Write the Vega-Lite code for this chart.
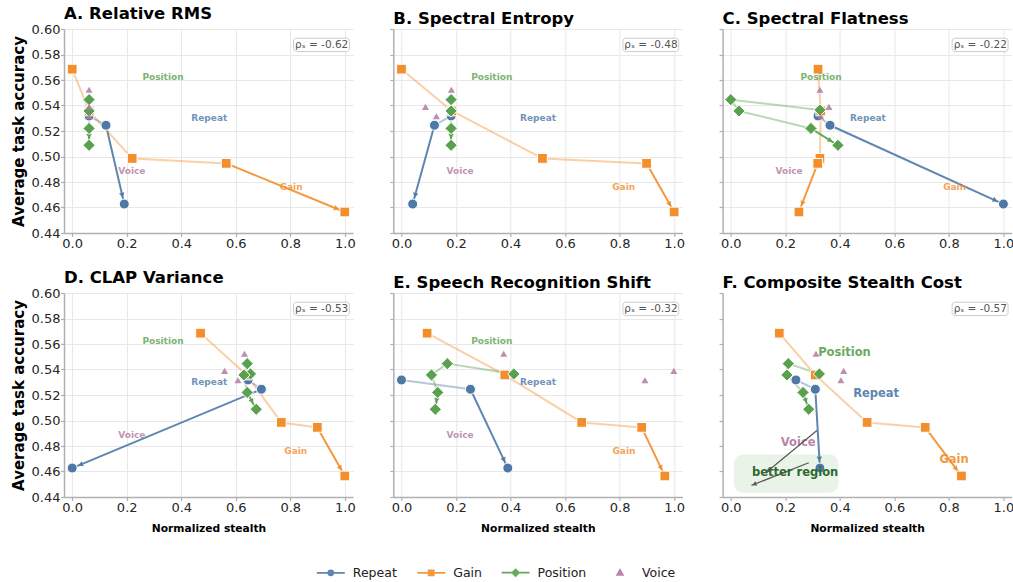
{
  "$schema": "https://vega.github.io/schema/vega-lite/v6.json",
  "padding": {"left": 11, "top": 5, "right": 0, "bottom": 0},
  "background": "white",
  "config": {
    "font": "DejaVu Sans",
    "view": {"stroke": null},
    "title": {"anchor": "start", "frame": "group", "fontSize": 16.5, "fontWeight": "bold", "offset": 1, "color": "black"},
    "axis": {"domainColor": "#b0b0b0", "domainWidth": 1.5, "tickColor": "#b0b0b0", "tickWidth": 1.2, "tickSize": 3.5, "labelFontSize": 13, "labelColor": "#262626", "labelPadding": 0.5, "labelOverlap": false, "labelSeparation": 0, "gridColor": "#e8e8e8", "gridWidth": 1, "titleColor": "black", "titleFontWeight": "bold"}
  },
  "datasets": {
    "points": [
      {"panel": "A", "series": "Repeat", "step": 1, "x": 0.062, "y": 0.5318},
      {"panel": "A", "series": "Repeat", "step": 2, "x": 0.124, "y": 0.5245},
      {"panel": "A", "series": "Repeat", "step": 3, "x": 0.191, "y": 0.4627},
      {"panel": "A", "series": "Gain", "step": 1, "x": 0.0, "y": 0.5685},
      {"panel": "A", "series": "Gain", "step": 2, "x": 0.062, "y": 0.5357},
      {"panel": "A", "series": "Gain", "step": 3, "x": 0.22, "y": 0.4985},
      {"panel": "A", "series": "Gain", "step": 4, "x": 0.565, "y": 0.4946},
      {"panel": "A", "series": "Gain", "step": 5, "x": 1.0, "y": 0.4565},
      {"panel": "A", "series": "Position", "step": 1, "x": 0.062, "y": 0.5365},
      {"panel": "A", "series": "Position", "step": 2, "x": 0.062, "y": 0.5446},
      {"panel": "A", "series": "Position", "step": 3, "x": 0.062, "y": 0.5357},
      {"panel": "A", "series": "Position", "step": 4, "x": 0.062, "y": 0.522},
      {"panel": "A", "series": "Position", "step": 5, "x": 0.062, "y": 0.5088},
      {"panel": "A", "series": "Voice", "step": 1, "x": 0.062, "y": 0.5524},
      {"panel": "A", "series": "Voice", "step": 2, "x": 0.062, "y": 0.5389},
      {"panel": "A", "series": "Voice", "step": 3, "x": 0.062, "y": 0.5316},

      {"panel": "B", "series": "Repeat", "step": 1, "x": 0.182, "y": 0.5318},
      {"panel": "B", "series": "Repeat", "step": 2, "x": 0.121, "y": 0.5245},
      {"panel": "B", "series": "Repeat", "step": 3, "x": 0.041, "y": 0.4627},
      {"panel": "B", "series": "Gain", "step": 1, "x": 0.0, "y": 0.5685},
      {"panel": "B", "series": "Gain", "step": 2, "x": 0.185, "y": 0.5357},
      {"panel": "B", "series": "Gain", "step": 3, "x": 0.517, "y": 0.4985},
      {"panel": "B", "series": "Gain", "step": 4, "x": 0.899, "y": 0.4946},
      {"panel": "B", "series": "Gain", "step": 5, "x": 1.0, "y": 0.4565},
      {"panel": "B", "series": "Position", "step": 1, "x": 0.182, "y": 0.5365},
      {"panel": "B", "series": "Position", "step": 2, "x": 0.182, "y": 0.5446},
      {"panel": "B", "series": "Position", "step": 3, "x": 0.182, "y": 0.5357},
      {"panel": "B", "series": "Position", "step": 4, "x": 0.182, "y": 0.522},
      {"panel": "B", "series": "Position", "step": 5, "x": 0.182, "y": 0.5088},
      {"panel": "B", "series": "Voice", "step": 1, "x": 0.183, "y": 0.5524},
      {"panel": "B", "series": "Voice", "step": 2, "x": 0.088, "y": 0.5389},
      {"panel": "B", "series": "Voice", "step": 3, "x": 0.128, "y": 0.5316},

      {"panel": "C", "series": "Repeat", "step": 1, "x": 0.32, "y": 0.5318},
      {"panel": "C", "series": "Repeat", "step": 2, "x": 0.364, "y": 0.5245},
      {"panel": "C", "series": "Repeat", "step": 3, "x": 1.0, "y": 0.4627},
      {"panel": "C", "series": "Gain", "step": 1, "x": 0.32, "y": 0.5685},
      {"panel": "C", "series": "Gain", "step": 2, "x": 0.33, "y": 0.5357},
      {"panel": "C", "series": "Gain", "step": 3, "x": 0.327, "y": 0.4985},
      {"panel": "C", "series": "Gain", "step": 4, "x": 0.319, "y": 0.4946},
      {"panel": "C", "series": "Gain", "step": 5, "x": 0.25, "y": 0.4565},
      {"panel": "C", "series": "Position", "step": 1, "x": 0.327, "y": 0.5365},
      {"panel": "C", "series": "Position", "step": 2, "x": 0.0, "y": 0.5446},
      {"panel": "C", "series": "Position", "step": 3, "x": 0.03, "y": 0.5357},
      {"panel": "C", "series": "Position", "step": 4, "x": 0.294, "y": 0.522},
      {"panel": "C", "series": "Position", "step": 5, "x": 0.393, "y": 0.5088},
      {"panel": "C", "series": "Voice", "step": 1, "x": 0.327, "y": 0.5524},
      {"panel": "C", "series": "Voice", "step": 2, "x": 0.36, "y": 0.5389},
      {"panel": "C", "series": "Voice", "step": 3, "x": 0.33, "y": 0.5316},

      {"panel": "D", "series": "Repeat", "step": 1, "x": 0.645, "y": 0.5318},
      {"panel": "D", "series": "Repeat", "step": 2, "x": 0.694, "y": 0.5245},
      {"panel": "D", "series": "Repeat", "step": 3, "x": 0.0, "y": 0.4627},
      {"panel": "D", "series": "Gain", "step": 1, "x": 0.471, "y": 0.5685},
      {"panel": "D", "series": "Gain", "step": 2, "x": 0.64, "y": 0.5357},
      {"panel": "D", "series": "Gain", "step": 3, "x": 0.767, "y": 0.4985},
      {"panel": "D", "series": "Gain", "step": 4, "x": 0.899, "y": 0.4946},
      {"panel": "D", "series": "Gain", "step": 5, "x": 1.0, "y": 0.4565},
      {"panel": "D", "series": "Position", "step": 1, "x": 0.654, "y": 0.5365},
      {"panel": "D", "series": "Position", "step": 2, "x": 0.642, "y": 0.5446},
      {"panel": "D", "series": "Position", "step": 3, "x": 0.63, "y": 0.5357},
      {"panel": "D", "series": "Position", "step": 4, "x": 0.642, "y": 0.522},
      {"panel": "D", "series": "Position", "step": 5, "x": 0.675, "y": 0.5088},
      {"panel": "D", "series": "Voice", "step": 1, "x": 0.632, "y": 0.5524},
      {"panel": "D", "series": "Voice", "step": 2, "x": 0.559, "y": 0.5389},
      {"panel": "D", "series": "Voice", "step": 3, "x": 0.608, "y": 0.5316},

      {"panel": "E", "series": "Repeat", "step": 1, "x": 0.0, "y": 0.5318},
      {"panel": "E", "series": "Repeat", "step": 2, "x": 0.253, "y": 0.5245},
      {"panel": "E", "series": "Repeat", "step": 3, "x": 0.39, "y": 0.4627},
      {"panel": "E", "series": "Gain", "step": 1, "x": 0.094, "y": 0.5685},
      {"panel": "E", "series": "Gain", "step": 2, "x": 0.379, "y": 0.5357},
      {"panel": "E", "series": "Gain", "step": 3, "x": 0.661, "y": 0.4985},
      {"panel": "E", "series": "Gain", "step": 4, "x": 0.881, "y": 0.4946},
      {"panel": "E", "series": "Gain", "step": 5, "x": 0.966, "y": 0.4565},
      {"panel": "E", "series": "Position", "step": 1, "x": 0.412, "y": 0.5365},
      {"panel": "E", "series": "Position", "step": 2, "x": 0.168, "y": 0.5446},
      {"panel": "E", "series": "Position", "step": 3, "x": 0.11, "y": 0.5357},
      {"panel": "E", "series": "Position", "step": 4, "x": 0.133, "y": 0.522},
      {"panel": "E", "series": "Position", "step": 5, "x": 0.124, "y": 0.5088},
      {"panel": "E", "series": "Voice", "step": 1, "x": 0.375, "y": 0.5524},
      {"panel": "E", "series": "Voice", "step": 2, "x": 0.999, "y": 0.5389},
      {"panel": "E", "series": "Voice", "step": 3, "x": 0.893, "y": 0.5316},

      {"panel": "F", "series": "Repeat", "step": 1, "x": 0.239, "y": 0.5318},
      {"panel": "F", "series": "Repeat", "step": 2, "x": 0.31, "y": 0.5245},
      {"panel": "F", "series": "Repeat", "step": 3, "x": 0.327, "y": 0.4627},
      {"panel": "F", "series": "Gain", "step": 1, "x": 0.178, "y": 0.5685},
      {"panel": "F", "series": "Gain", "step": 2, "x": 0.31, "y": 0.5357},
      {"panel": "F", "series": "Gain", "step": 3, "x": 0.5, "y": 0.4985},
      {"panel": "F", "series": "Gain", "step": 4, "x": 0.713, "y": 0.4946},
      {"panel": "F", "series": "Gain", "step": 5, "x": 0.846, "y": 0.4565},
      {"panel": "F", "series": "Position", "step": 1, "x": 0.325, "y": 0.5365},
      {"panel": "F", "series": "Position", "step": 2, "x": 0.211, "y": 0.5446},
      {"panel": "F", "series": "Position", "step": 3, "x": 0.206, "y": 0.5357},
      {"panel": "F", "series": "Position", "step": 4, "x": 0.265, "y": 0.522},
      {"panel": "F", "series": "Position", "step": 5, "x": 0.286, "y": 0.5088},
      {"panel": "F", "series": "Voice", "step": 1, "x": 0.3125, "y": 0.5524},
      {"panel": "F", "series": "Voice", "step": 2, "x": 0.414, "y": 0.5389},
      {"panel": "F", "series": "Voice", "step": 3, "x": 0.404, "y": 0.5316}
    ],
    "labels": [
      {"panel": "A", "series": "Position", "x": 0.333, "y": 0.5625},
      {"panel": "A", "series": "Repeat", "x": 0.503, "y": 0.5305},
      {"panel": "A", "series": "Voice", "x": 0.219, "y": 0.4884},
      {"panel": "A", "series": "Gain", "x": 0.803, "y": 0.4757},
      {"panel": "B", "series": "Position", "x": 0.331, "y": 0.5625},
      {"panel": "B", "series": "Repeat", "x": 0.501, "y": 0.5305},
      {"panel": "B", "series": "Voice", "x": 0.215, "y": 0.4884},
      {"panel": "B", "series": "Gain", "x": 0.815, "y": 0.4757},
      {"panel": "C", "series": "Position", "x": 0.331, "y": 0.5625},
      {"panel": "C", "series": "Repeat", "x": 0.503, "y": 0.5305},
      {"panel": "C", "series": "Voice", "x": 0.214, "y": 0.4884},
      {"panel": "C", "series": "Gain", "x": 0.821, "y": 0.4757},
      {"panel": "D", "series": "Position", "x": 0.333, "y": 0.5625},
      {"panel": "D", "series": "Repeat", "x": 0.503, "y": 0.5305},
      {"panel": "D", "series": "Voice", "x": 0.219, "y": 0.4884},
      {"panel": "D", "series": "Gain", "x": 0.82, "y": 0.4757},
      {"panel": "E", "series": "Position", "x": 0.331, "y": 0.5625},
      {"panel": "E", "series": "Repeat", "x": 0.501, "y": 0.5305},
      {"panel": "E", "series": "Voice", "x": 0.215, "y": 0.4884},
      {"panel": "E", "series": "Gain", "x": 0.816, "y": 0.4757},
      {"panel": "F", "series": "Position", "x": 0.417, "y": 0.5526},
      {"panel": "F", "series": "Repeat", "x": 0.533, "y": 0.5206},
      {"panel": "F", "series": "Voice", "x": 0.247, "y": 0.4824},
      {"panel": "F", "series": "Gain", "x": 0.819, "y": 0.4694}
    ],
    "rho": [
      {"panel": "A", "rho": -0.62, "label": "ρₛ = -0.62"},
      {"panel": "B", "rho": -0.48, "label": "ρₛ = -0.48"},
      {"panel": "C", "rho": -0.22, "label": "ρₛ = -0.22"},
      {"panel": "D", "rho": -0.53, "label": "ρₛ = -0.53"},
      {"panel": "E", "rho": -0.32, "label": "ρₛ = -0.32"},
      {"panel": "F", "rho": -0.57, "label": "ρₛ = -0.57"}
    ],
    "notes": [{"panel": "F", "note": "better region"}]
  },
  "spacing": 19,
  "vconcat": [
    {
      "bounds": "flush",
      "spacing": 40.3,
      "hconcat": [
        {
          "width": 289, "height": 204,
          "title": "A. Relative RMS",
          "layer": [
            {"data": {"name": "points"}, "transform": [{"filter": "datum.panel == 'A' && datum.series != 'Voice'"}, {"window": [{"op": "lag", "field": "x", "as": "xp"}, {"op": "lag", "field": "y", "as": "yp"}, {"op": "row_number", "as": "rn"}, {"op": "count", "as": "n"}], "groupby": ["series"], "sort": [{"field": "step", "order": "ascending"}], "frame": [null, null]}, {"filter": "datum.xp != null"}],
             "mark": {"type": "rule", "strokeWidth": 2, "strokeCap": "round"},
             "encoding": {
               "x": {"field": "x", "type": "quantitative", "scale": {"domain": [-0.03, 1.03], "nice": false, "zero": false}, "axis": {"values": [0, 0.2, 0.4, 0.6, 0.8, 1], "tickCount": 10, "format": ".1f", "title": null}},
               "y": {"field": "y", "type": "quantitative", "scale": {"domain": [0.44, 0.6], "nice": false, "zero": false}, "axis": {"values": [0.44, 0.46, 0.48, 0.5, 0.52, 0.54, 0.56, 0.58, 0.6], "tickCount": 10, "format": ".2f", "labelOverlap": false, "title": "Average task accuracy", "titleFontSize": 15, "titlePadding": 4.2}},
               "x2": {"field": "xp"}, "y2": {"field": "yp"},
               "color": {"field": "series", "type": "nominal", "scale": {"domain": ["Repeat", "Gain", "Position", "Voice"], "range": ["#4e79a7", "#f28e2b", "#59a14f", "#b07aa1"]}},
               "opacity": {"condition": {"test": "datum.rn == datum.n", "value": 0.9}, "value": 0.42}}},
            {"data": {"name": "points"}, "transform": [{"filter": "datum.panel == 'A' && datum.series != 'Voice'"}, {"window": [{"op": "lag", "field": "x", "as": "xp"}, {"op": "lag", "field": "y", "as": "yp"}, {"op": "row_number", "as": "rn"}, {"op": "count", "as": "n"}], "groupby": ["series"], "sort": [{"field": "step", "order": "ascending"}], "frame": [null, null]}, {"filter": "datum.rn == datum.n"}],
             "mark": {"type": "point", "shape": "triangle-up", "filled": true, "size": 30, "opacity": 0.95,
               "angle": {"expr": "atan2((datum.x-datum.xp)*272.6,(datum.y-datum.yp)*1275)*180/PI"},
               "xOffset": {"expr": "-9*(datum.x-datum.xp)*272.6/sqrt(pow((datum.x-datum.xp)*272.6,2)+pow((datum.y-datum.yp)*1275,2))"},
               "yOffset": {"expr": "9*(datum.y-datum.yp)*1275/sqrt(pow((datum.x-datum.xp)*272.6,2)+pow((datum.y-datum.yp)*1275,2))"}},
             "encoding": {"x": {"field": "x", "type": "quantitative"}, "y": {"field": "y", "type": "quantitative"}, "color": {"field": "series", "type": "nominal"}}},
            {"data": {"name": "points"}, "transform": [{"filter": "datum.panel == 'A'"}],
             "mark": {"type": "point", "filled": true, "stroke": "white"},
             "encoding": {
               "x": {"field": "x", "type": "quantitative"}, "y": {"field": "y", "type": "quantitative"},
               "color": {"field": "series", "type": "nominal"},
               "shape": {"condition": [{"test": "datum.series == 'Repeat'", "value": "circle"}, {"test": "datum.series == 'Gain'", "value": "square"}, {"test": "datum.series == 'Position'", "value": "diamond"}], "value": "triangle-up"},
               "size": {"condition": [{"test": "datum.series == 'Repeat'", "value": 100}, {"test": "datum.series == 'Gain'", "value": 95}, {"test": "datum.series == 'Position'", "value": 150}], "value": 50},
               "opacity": {"condition": {"test": "datum.series == 'Voice'", "value": 0.85}, "value": 1},
               "strokeWidth": {"condition": {"test": "datum.series == 'Voice'", "value": 0}, "value": 1}}},
            {"data": {"name": "labels"}, "transform": [{"filter": "datum.panel == 'A'"}],
             "mark": {"type": "text", "fontWeight": "bold", "fontSize": 9, "opacity": 0.8},
             "encoding": {"x": {"field": "x", "type": "quantitative"}, "y": {"field": "y", "type": "quantitative"}, "text": {"field": "series"}, "color": {"field": "series", "type": "nominal"}}},
            {"data": {"name": "rho"}, "transform": [{"filter": "datum.panel == 'A'"}],
             "mark": {"type": "rect", "fill": "white", "fillOpacity": 0.85, "stroke": "#cccccc", "strokeWidth": 1, "cornerRadius": 3},
             "encoding": {"x": {"datum": 0.812}, "x2": {"datum": 1.017}, "y": {"datum": 0.5928}, "y2": {"datum": 0.5823}}},
            {"data": {"name": "rho"}, "transform": [{"filter": "datum.panel == 'A'"}],
             "mark": {"type": "text", "fontSize": 10.5, "color": "#555555"},
             "encoding": {"x": {"datum": 0.915}, "y": {"datum": 0.5876}, "text": {"field": "label"}}},
            {"data": {"name": "points"}, "transform": [{"filter": "false"}],
             "mark": {"type": "point", "filled": true, "strokeWidth": 1.8},
             "encoding": {
               "x": {"field": "x", "type": "quantitative"}, "y": {"field": "y", "type": "quantitative"},
               "color": {"field": "series", "type": "nominal", "legend": {"orient": "none", "legendX": 258.8, "legendY": 535.6, "direction": "horizontal", "columns": 4, "title": null, "symbolSize": 196, "symbolStrokeWidth": 1.8, "labelFontSize": 12.5, "labelColor": "#222222", "labelOffset": 14, "columnPadding": 15.4, "padding": 0}},
               "stroke": {"field": "series", "type": "nominal", "scale": {"domain": ["Repeat", "Gain", "Position", "Voice"], "range": ["#4e79a7", "#f28e2b", "#59a14f", "#b07aa1"]}, "legend": {"orient": "none", "legendX": 258.8, "legendY": 535.6, "direction": "horizontal", "columns": 4, "title": null, "symbolSize": 196, "symbolStrokeWidth": 1.8, "labelFontSize": 12.5, "labelColor": "#222222", "labelOffset": 14, "columnPadding": 15.4, "padding": 0}},
               "shape": {"field": "series", "type": "nominal", "scale": {"domain": ["Repeat", "Gain", "Position", "Voice"], "range": ["M-2,0H2M-0.36,0A0.36,0.36 0 1,1 0.36,0A0.36,0.36 0 1,1 -0.36,0Z", "M-2,0H2M-0.36,-0.36H0.36V0.36H-0.36Z", "M-2,0H2M0,-0.46L0.46,0L0,0.46L-0.46,0Z", "M-2,0L-2,0M2,0L2,0M0,-0.42L0.4,0.3L-0.4,0.3Z"]}, "legend": {"orient": "none", "legendX": 258.8, "legendY": 535.6, "direction": "horizontal", "columns": 4, "title": null, "symbolSize": 196, "symbolStrokeWidth": 1.8, "labelFontSize": 12.5, "labelColor": "#222222", "labelOffset": 14, "columnPadding": 15.4, "padding": 0}}}}
          ]
        },
        {
          "width": 289, "height": 204,
          "title": "B. Spectral Entropy",
          "layer": [
            {"data": {"name": "points"}, "transform": [{"filter": "datum.panel == 'B' && datum.series != 'Voice'"}, {"window": [{"op": "lag", "field": "x", "as": "xp"}, {"op": "lag", "field": "y", "as": "yp"}, {"op": "row_number", "as": "rn"}, {"op": "count", "as": "n"}], "groupby": ["series"], "sort": [{"field": "step", "order": "ascending"}], "frame": [null, null]}, {"filter": "datum.xp != null"}],
             "mark": {"type": "rule", "strokeWidth": 2, "strokeCap": "round"},
             "encoding": {
               "x": {"field": "x", "type": "quantitative", "scale": {"domain": [-0.03, 1.03], "nice": false, "zero": false}, "axis": {"values": [0, 0.2, 0.4, 0.6, 0.8, 1], "tickCount": 10, "format": ".1f", "title": null}},
               "y": {"field": "y", "type": "quantitative", "scale": {"domain": [0.44, 0.6], "nice": false, "zero": false}, "axis": {"values": [0.44, 0.46, 0.48, 0.5, 0.52, 0.54, 0.56, 0.58, 0.6], "tickCount": 10, "labels": false, "title": null}},
               "x2": {"field": "xp"}, "y2": {"field": "yp"},
               "color": {"field": "series", "type": "nominal"},
               "opacity": {"condition": {"test": "datum.rn == datum.n", "value": 0.9}, "value": 0.42}}},
            {"data": {"name": "points"}, "transform": [{"filter": "datum.panel == 'B' && datum.series != 'Voice'"}, {"window": [{"op": "lag", "field": "x", "as": "xp"}, {"op": "lag", "field": "y", "as": "yp"}, {"op": "row_number", "as": "rn"}, {"op": "count", "as": "n"}], "groupby": ["series"], "sort": [{"field": "step", "order": "ascending"}], "frame": [null, null]}, {"filter": "datum.rn == datum.n"}],
             "mark": {"type": "point", "shape": "triangle-up", "filled": true, "size": 30, "opacity": 0.95,
               "angle": {"expr": "atan2((datum.x-datum.xp)*272.6,(datum.y-datum.yp)*1275)*180/PI"},
               "xOffset": {"expr": "-9*(datum.x-datum.xp)*272.6/sqrt(pow((datum.x-datum.xp)*272.6,2)+pow((datum.y-datum.yp)*1275,2))"},
               "yOffset": {"expr": "9*(datum.y-datum.yp)*1275/sqrt(pow((datum.x-datum.xp)*272.6,2)+pow((datum.y-datum.yp)*1275,2))"}},
             "encoding": {"x": {"field": "x", "type": "quantitative"}, "y": {"field": "y", "type": "quantitative"}, "color": {"field": "series", "type": "nominal"}}},
            {"data": {"name": "points"}, "transform": [{"filter": "datum.panel == 'B'"}],
             "mark": {"type": "point", "filled": true, "stroke": "white"},
             "encoding": {
               "x": {"field": "x", "type": "quantitative"}, "y": {"field": "y", "type": "quantitative"},
               "color": {"field": "series", "type": "nominal"},
               "shape": {"condition": [{"test": "datum.series == 'Repeat'", "value": "circle"}, {"test": "datum.series == 'Gain'", "value": "square"}, {"test": "datum.series == 'Position'", "value": "diamond"}], "value": "triangle-up"},
               "size": {"condition": [{"test": "datum.series == 'Repeat'", "value": 100}, {"test": "datum.series == 'Gain'", "value": 95}, {"test": "datum.series == 'Position'", "value": 150}], "value": 50},
               "opacity": {"condition": {"test": "datum.series == 'Voice'", "value": 0.85}, "value": 1},
               "strokeWidth": {"condition": {"test": "datum.series == 'Voice'", "value": 0}, "value": 1}}},
            {"data": {"name": "labels"}, "transform": [{"filter": "datum.panel == 'B'"}],
             "mark": {"type": "text", "fontWeight": "bold", "fontSize": 9, "opacity": 0.8},
             "encoding": {"x": {"field": "x", "type": "quantitative"}, "y": {"field": "y", "type": "quantitative"}, "text": {"field": "series"}, "color": {"field": "series", "type": "nominal"}}},
            {"data": {"name": "rho"}, "transform": [{"filter": "datum.panel == 'B'"}],
             "mark": {"type": "rect", "fill": "white", "fillOpacity": 0.85, "stroke": "#cccccc", "strokeWidth": 1, "cornerRadius": 3},
             "encoding": {"x": {"datum": 0.812}, "x2": {"datum": 1.017}, "y": {"datum": 0.5928}, "y2": {"datum": 0.5823}}},
            {"data": {"name": "rho"}, "transform": [{"filter": "datum.panel == 'B'"}],
             "mark": {"type": "text", "fontSize": 10.5, "color": "#555555"},
             "encoding": {"x": {"datum": 0.915}, "y": {"datum": 0.5876}, "text": {"field": "label"}}}
          ]
        },
        {
          "width": 289, "height": 204,
          "title": "C. Spectral Flatness",
          "layer": [
            {"data": {"name": "points"}, "transform": [{"filter": "datum.panel == 'C' && datum.series != 'Voice'"}, {"window": [{"op": "lag", "field": "x", "as": "xp"}, {"op": "lag", "field": "y", "as": "yp"}, {"op": "row_number", "as": "rn"}, {"op": "count", "as": "n"}], "groupby": ["series"], "sort": [{"field": "step", "order": "ascending"}], "frame": [null, null]}, {"filter": "datum.xp != null"}],
             "mark": {"type": "rule", "strokeWidth": 2, "strokeCap": "round"},
             "encoding": {
               "x": {"field": "x", "type": "quantitative", "scale": {"domain": [-0.03, 1.03], "nice": false, "zero": false}, "axis": {"values": [0, 0.2, 0.4, 0.6, 0.8, 1], "tickCount": 10, "format": ".1f", "title": null}},
               "y": {"field": "y", "type": "quantitative", "scale": {"domain": [0.44, 0.6], "nice": false, "zero": false}, "axis": {"values": [0.44, 0.46, 0.48, 0.5, 0.52, 0.54, 0.56, 0.58, 0.6], "tickCount": 10, "labels": false, "title": null}},
               "x2": {"field": "xp"}, "y2": {"field": "yp"},
               "color": {"field": "series", "type": "nominal"},
               "opacity": {"condition": {"test": "datum.rn == datum.n", "value": 0.9}, "value": 0.42}}},
            {"data": {"name": "points"}, "transform": [{"filter": "datum.panel == 'C' && datum.series != 'Voice'"}, {"window": [{"op": "lag", "field": "x", "as": "xp"}, {"op": "lag", "field": "y", "as": "yp"}, {"op": "row_number", "as": "rn"}, {"op": "count", "as": "n"}], "groupby": ["series"], "sort": [{"field": "step", "order": "ascending"}], "frame": [null, null]}, {"filter": "datum.rn == datum.n"}],
             "mark": {"type": "point", "shape": "triangle-up", "filled": true, "size": 30, "opacity": 0.95,
               "angle": {"expr": "atan2((datum.x-datum.xp)*272.6,(datum.y-datum.yp)*1275)*180/PI"},
               "xOffset": {"expr": "-9*(datum.x-datum.xp)*272.6/sqrt(pow((datum.x-datum.xp)*272.6,2)+pow((datum.y-datum.yp)*1275,2))"},
               "yOffset": {"expr": "9*(datum.y-datum.yp)*1275/sqrt(pow((datum.x-datum.xp)*272.6,2)+pow((datum.y-datum.yp)*1275,2))"}},
             "encoding": {"x": {"field": "x", "type": "quantitative"}, "y": {"field": "y", "type": "quantitative"}, "color": {"field": "series", "type": "nominal"}}},
            {"data": {"name": "points"}, "transform": [{"filter": "datum.panel == 'C'"}],
             "mark": {"type": "point", "filled": true, "stroke": "white"},
             "encoding": {
               "x": {"field": "x", "type": "quantitative"}, "y": {"field": "y", "type": "quantitative"},
               "color": {"field": "series", "type": "nominal"},
               "shape": {"condition": [{"test": "datum.series == 'Repeat'", "value": "circle"}, {"test": "datum.series == 'Gain'", "value": "square"}, {"test": "datum.series == 'Position'", "value": "diamond"}], "value": "triangle-up"},
               "size": {"condition": [{"test": "datum.series == 'Repeat'", "value": 100}, {"test": "datum.series == 'Gain'", "value": 95}, {"test": "datum.series == 'Position'", "value": 150}], "value": 50},
               "opacity": {"condition": {"test": "datum.series == 'Voice'", "value": 0.85}, "value": 1},
               "strokeWidth": {"condition": {"test": "datum.series == 'Voice'", "value": 0}, "value": 1}}},
            {"data": {"name": "labels"}, "transform": [{"filter": "datum.panel == 'C'"}],
             "mark": {"type": "text", "fontWeight": "bold", "fontSize": 9, "opacity": 0.8},
             "encoding": {"x": {"field": "x", "type": "quantitative"}, "y": {"field": "y", "type": "quantitative"}, "text": {"field": "series"}, "color": {"field": "series", "type": "nominal"}}},
            {"data": {"name": "rho"}, "transform": [{"filter": "datum.panel == 'C'"}],
             "mark": {"type": "rect", "fill": "white", "fillOpacity": 0.85, "stroke": "#cccccc", "strokeWidth": 1, "cornerRadius": 3},
             "encoding": {"x": {"datum": 0.812}, "x2": {"datum": 1.017}, "y": {"datum": 0.5928}, "y2": {"datum": 0.5823}}},
            {"data": {"name": "rho"}, "transform": [{"filter": "datum.panel == 'C'"}],
             "mark": {"type": "text", "fontSize": 10.5, "color": "#555555"},
             "encoding": {"x": {"datum": 0.915}, "y": {"datum": 0.5876}, "text": {"field": "label"}}}
          ]
        }
      ]
    },
    {
      "bounds": "flush",
      "spacing": 40.3,
      "hconcat": [
        {
          "width": 289, "height": 204,
          "title": "D. CLAP Variance",
          "layer": [
            {"data": {"name": "points"}, "transform": [{"filter": "datum.panel == 'D' && datum.series != 'Voice'"}, {"window": [{"op": "lag", "field": "x", "as": "xp"}, {"op": "lag", "field": "y", "as": "yp"}, {"op": "row_number", "as": "rn"}, {"op": "count", "as": "n"}], "groupby": ["series"], "sort": [{"field": "step", "order": "ascending"}], "frame": [null, null]}, {"filter": "datum.xp != null"}],
             "mark": {"type": "rule", "strokeWidth": 2, "strokeCap": "round"},
             "encoding": {
               "x": {"field": "x", "type": "quantitative", "scale": {"domain": [-0.03, 1.03], "nice": false, "zero": false}, "axis": {"values": [0, 0.2, 0.4, 0.6, 0.8, 1], "tickCount": 10, "format": ".1f", "title": "Normalized stealth", "titleFontSize": 10.7, "titlePadding": 9}},
               "y": {"field": "y", "type": "quantitative", "scale": {"domain": [0.44, 0.6], "nice": false, "zero": false}, "axis": {"values": [0.44, 0.46, 0.48, 0.5, 0.52, 0.54, 0.56, 0.58, 0.6], "tickCount": 10, "format": ".2f", "labelOverlap": false, "title": "Average task accuracy", "titleFontSize": 15, "titlePadding": 4.2}},
               "x2": {"field": "xp"}, "y2": {"field": "yp"},
               "color": {"field": "series", "type": "nominal"},
               "opacity": {"condition": {"test": "datum.rn == datum.n", "value": 0.9}, "value": 0.42}}},
            {"data": {"name": "points"}, "transform": [{"filter": "datum.panel == 'D' && datum.series != 'Voice'"}, {"window": [{"op": "lag", "field": "x", "as": "xp"}, {"op": "lag", "field": "y", "as": "yp"}, {"op": "row_number", "as": "rn"}, {"op": "count", "as": "n"}], "groupby": ["series"], "sort": [{"field": "step", "order": "ascending"}], "frame": [null, null]}, {"filter": "datum.rn == datum.n"}],
             "mark": {"type": "point", "shape": "triangle-up", "filled": true, "size": 30, "opacity": 0.95,
               "angle": {"expr": "atan2((datum.x-datum.xp)*272.6,(datum.y-datum.yp)*1275)*180/PI"},
               "xOffset": {"expr": "-9*(datum.x-datum.xp)*272.6/sqrt(pow((datum.x-datum.xp)*272.6,2)+pow((datum.y-datum.yp)*1275,2))"},
               "yOffset": {"expr": "9*(datum.y-datum.yp)*1275/sqrt(pow((datum.x-datum.xp)*272.6,2)+pow((datum.y-datum.yp)*1275,2))"}},
             "encoding": {"x": {"field": "x", "type": "quantitative"}, "y": {"field": "y", "type": "quantitative"}, "color": {"field": "series", "type": "nominal"}}},
            {"data": {"name": "points"}, "transform": [{"filter": "datum.panel == 'D'"}],
             "mark": {"type": "point", "filled": true, "stroke": "white"},
             "encoding": {
               "x": {"field": "x", "type": "quantitative"}, "y": {"field": "y", "type": "quantitative"},
               "color": {"field": "series", "type": "nominal"},
               "shape": {"condition": [{"test": "datum.series == 'Repeat'", "value": "circle"}, {"test": "datum.series == 'Gain'", "value": "square"}, {"test": "datum.series == 'Position'", "value": "diamond"}], "value": "triangle-up"},
               "size": {"condition": [{"test": "datum.series == 'Repeat'", "value": 100}, {"test": "datum.series == 'Gain'", "value": 95}, {"test": "datum.series == 'Position'", "value": 150}], "value": 50},
               "opacity": {"condition": {"test": "datum.series == 'Voice'", "value": 0.85}, "value": 1},
               "strokeWidth": {"condition": {"test": "datum.series == 'Voice'", "value": 0}, "value": 1}}},
            {"data": {"name": "labels"}, "transform": [{"filter": "datum.panel == 'D'"}],
             "mark": {"type": "text", "fontWeight": "bold", "fontSize": 9, "opacity": 0.8},
             "encoding": {"x": {"field": "x", "type": "quantitative"}, "y": {"field": "y", "type": "quantitative"}, "text": {"field": "series"}, "color": {"field": "series", "type": "nominal"}}},
            {"data": {"name": "rho"}, "transform": [{"filter": "datum.panel == 'D'"}],
             "mark": {"type": "rect", "fill": "white", "fillOpacity": 0.85, "stroke": "#cccccc", "strokeWidth": 1, "cornerRadius": 3},
             "encoding": {"x": {"datum": 0.812}, "x2": {"datum": 1.017}, "y": {"datum": 0.5928}, "y2": {"datum": 0.5823}}},
            {"data": {"name": "rho"}, "transform": [{"filter": "datum.panel == 'D'"}],
             "mark": {"type": "text", "fontSize": 10.5, "color": "#555555"},
             "encoding": {"x": {"datum": 0.915}, "y": {"datum": 0.5876}, "text": {"field": "label"}}}
          ]
        },
        {
          "width": 289, "height": 204,
          "title": "E. Speech Recognition Shift",
          "layer": [
            {"data": {"name": "points"}, "transform": [{"filter": "datum.panel == 'E' && datum.series != 'Voice'"}, {"window": [{"op": "lag", "field": "x", "as": "xp"}, {"op": "lag", "field": "y", "as": "yp"}, {"op": "row_number", "as": "rn"}, {"op": "count", "as": "n"}], "groupby": ["series"], "sort": [{"field": "step", "order": "ascending"}], "frame": [null, null]}, {"filter": "datum.xp != null"}],
             "mark": {"type": "rule", "strokeWidth": 2, "strokeCap": "round"},
             "encoding": {
               "x": {"field": "x", "type": "quantitative", "scale": {"domain": [-0.03, 1.03], "nice": false, "zero": false}, "axis": {"values": [0, 0.2, 0.4, 0.6, 0.8, 1], "tickCount": 10, "format": ".1f", "title": "Normalized stealth", "titleFontSize": 10.7, "titlePadding": 9}},
               "y": {"field": "y", "type": "quantitative", "scale": {"domain": [0.44, 0.6], "nice": false, "zero": false}, "axis": {"values": [0.44, 0.46, 0.48, 0.5, 0.52, 0.54, 0.56, 0.58, 0.6], "tickCount": 10, "labels": false, "title": null}},
               "x2": {"field": "xp"}, "y2": {"field": "yp"},
               "color": {"field": "series", "type": "nominal"},
               "opacity": {"condition": {"test": "datum.rn == datum.n", "value": 0.9}, "value": 0.42}}},
            {"data": {"name": "points"}, "transform": [{"filter": "datum.panel == 'E' && datum.series != 'Voice'"}, {"window": [{"op": "lag", "field": "x", "as": "xp"}, {"op": "lag", "field": "y", "as": "yp"}, {"op": "row_number", "as": "rn"}, {"op": "count", "as": "n"}], "groupby": ["series"], "sort": [{"field": "step", "order": "ascending"}], "frame": [null, null]}, {"filter": "datum.rn == datum.n"}],
             "mark": {"type": "point", "shape": "triangle-up", "filled": true, "size": 30, "opacity": 0.95,
               "angle": {"expr": "atan2((datum.x-datum.xp)*272.6,(datum.y-datum.yp)*1275)*180/PI"},
               "xOffset": {"expr": "-9*(datum.x-datum.xp)*272.6/sqrt(pow((datum.x-datum.xp)*272.6,2)+pow((datum.y-datum.yp)*1275,2))"},
               "yOffset": {"expr": "9*(datum.y-datum.yp)*1275/sqrt(pow((datum.x-datum.xp)*272.6,2)+pow((datum.y-datum.yp)*1275,2))"}},
             "encoding": {"x": {"field": "x", "type": "quantitative"}, "y": {"field": "y", "type": "quantitative"}, "color": {"field": "series", "type": "nominal"}}},
            {"data": {"name": "points"}, "transform": [{"filter": "datum.panel == 'E'"}],
             "mark": {"type": "point", "filled": true, "stroke": "white"},
             "encoding": {
               "x": {"field": "x", "type": "quantitative"}, "y": {"field": "y", "type": "quantitative"},
               "color": {"field": "series", "type": "nominal"},
               "shape": {"condition": [{"test": "datum.series == 'Repeat'", "value": "circle"}, {"test": "datum.series == 'Gain'", "value": "square"}, {"test": "datum.series == 'Position'", "value": "diamond"}], "value": "triangle-up"},
               "size": {"condition": [{"test": "datum.series == 'Repeat'", "value": 100}, {"test": "datum.series == 'Gain'", "value": 95}, {"test": "datum.series == 'Position'", "value": 150}], "value": 50},
               "opacity": {"condition": {"test": "datum.series == 'Voice'", "value": 0.85}, "value": 1},
               "strokeWidth": {"condition": {"test": "datum.series == 'Voice'", "value": 0}, "value": 1}}},
            {"data": {"name": "labels"}, "transform": [{"filter": "datum.panel == 'E'"}],
             "mark": {"type": "text", "fontWeight": "bold", "fontSize": 9, "opacity": 0.8},
             "encoding": {"x": {"field": "x", "type": "quantitative"}, "y": {"field": "y", "type": "quantitative"}, "text": {"field": "series"}, "color": {"field": "series", "type": "nominal"}}},
            {"data": {"name": "rho"}, "transform": [{"filter": "datum.panel == 'E'"}],
             "mark": {"type": "rect", "fill": "white", "fillOpacity": 0.85, "stroke": "#cccccc", "strokeWidth": 1, "cornerRadius": 3},
             "encoding": {"x": {"datum": 0.812}, "x2": {"datum": 1.017}, "y": {"datum": 0.5928}, "y2": {"datum": 0.5823}}},
            {"data": {"name": "rho"}, "transform": [{"filter": "datum.panel == 'E'"}],
             "mark": {"type": "text", "fontSize": 10.5, "color": "#555555"},
             "encoding": {"x": {"datum": 0.915}, "y": {"datum": 0.5876}, "text": {"field": "label"}}}
          ]
        },
        {
          "width": 289, "height": 204,
          "title": "F. Composite Stealth Cost",
          "layer": [
            {"data": {"name": "notes"},
             "mark": {"type": "rect", "fill": "#59a14f", "opacity": 0.13, "cornerRadius": 9},
             "encoding": {"x": {"datum": 0.012}, "x2": {"datum": 0.395}, "y": {"datum": 0.4733}, "y2": {"datum": 0.4433}}},
            {"data": {"name": "points"}, "transform": [{"filter": "datum.panel == 'F' && datum.series != 'Voice'"}, {"window": [{"op": "lag", "field": "x", "as": "xp"}, {"op": "lag", "field": "y", "as": "yp"}, {"op": "row_number", "as": "rn"}, {"op": "count", "as": "n"}], "groupby": ["series"], "sort": [{"field": "step", "order": "ascending"}], "frame": [null, null]}, {"filter": "datum.xp != null"}],
             "mark": {"type": "rule", "strokeWidth": 2, "strokeCap": "round"},
             "encoding": {
               "x": {"field": "x", "type": "quantitative", "scale": {"domain": [-0.03, 1.03], "nice": false, "zero": false}, "axis": {"values": [0, 0.2, 0.4, 0.6, 0.8, 1], "tickCount": 10, "format": ".1f", "title": "Normalized stealth", "titleFontSize": 10.7, "titlePadding": 9}},
               "y": {"field": "y", "type": "quantitative", "scale": {"domain": [0.44, 0.6], "nice": false, "zero": false}, "axis": {"values": [0.44, 0.46, 0.48, 0.5, 0.52, 0.54, 0.56, 0.58, 0.6], "tickCount": 10, "labels": false, "title": null}},
               "x2": {"field": "xp"}, "y2": {"field": "yp"},
               "color": {"field": "series", "type": "nominal"},
               "opacity": {"condition": {"test": "datum.rn == datum.n", "value": 0.9}, "value": 0.42}}},
            {"data": {"name": "points"}, "transform": [{"filter": "datum.panel == 'F' && datum.series != 'Voice'"}, {"window": [{"op": "lag", "field": "x", "as": "xp"}, {"op": "lag", "field": "y", "as": "yp"}, {"op": "row_number", "as": "rn"}, {"op": "count", "as": "n"}], "groupby": ["series"], "sort": [{"field": "step", "order": "ascending"}], "frame": [null, null]}, {"filter": "datum.rn == datum.n"}],
             "mark": {"type": "point", "shape": "triangle-up", "filled": true, "size": 30, "opacity": 0.95,
               "angle": {"expr": "atan2((datum.x-datum.xp)*272.6,(datum.y-datum.yp)*1275)*180/PI"},
               "xOffset": {"expr": "-9*(datum.x-datum.xp)*272.6/sqrt(pow((datum.x-datum.xp)*272.6,2)+pow((datum.y-datum.yp)*1275,2))"},
               "yOffset": {"expr": "9*(datum.y-datum.yp)*1275/sqrt(pow((datum.x-datum.xp)*272.6,2)+pow((datum.y-datum.yp)*1275,2))"}},
             "encoding": {"x": {"field": "x", "type": "quantitative"}, "y": {"field": "y", "type": "quantitative"}, "color": {"field": "series", "type": "nominal"}}},
            {"data": {"name": "points"}, "transform": [{"filter": "datum.panel == 'F'"}],
             "mark": {"type": "point", "filled": true, "stroke": "white"},
             "encoding": {
               "x": {"field": "x", "type": "quantitative"}, "y": {"field": "y", "type": "quantitative"},
               "color": {"field": "series", "type": "nominal"},
               "shape": {"condition": [{"test": "datum.series == 'Repeat'", "value": "circle"}, {"test": "datum.series == 'Gain'", "value": "square"}, {"test": "datum.series == 'Position'", "value": "diamond"}], "value": "triangle-up"},
               "size": {"condition": [{"test": "datum.series == 'Repeat'", "value": 100}, {"test": "datum.series == 'Gain'", "value": 95}, {"test": "datum.series == 'Position'", "value": 150}], "value": 50},
               "opacity": {"condition": {"test": "datum.series == 'Voice'", "value": 0.85}, "value": 1},
               "strokeWidth": {"condition": {"test": "datum.series == 'Voice'", "value": 0}, "value": 1}}},
            {"data": {"name": "labels"}, "transform": [{"filter": "datum.panel == 'F'"}],
             "mark": {"type": "text", "fontWeight": "bold", "fontSize": 11.5, "opacity": 0.9},
             "encoding": {"x": {"field": "x", "type": "quantitative"}, "y": {"field": "y", "type": "quantitative"}, "text": {"field": "series"}, "color": {"field": "series", "type": "nominal"}}},
            {"data": {"name": "notes"},
             "mark": {"type": "text", "fontWeight": "bold", "fontSize": 11.5, "color": "#2b6a2f"},
             "encoding": {"x": {"datum": 0.236}, "y": {"datum": 0.459}, "text": {"field": "note"}}},
            {"data": {"name": "notes"},
             "mark": {"type": "rule", "color": "#555555", "strokeWidth": 1.2},
             "encoding": {"x": {"datum": 0.316}, "y": {"datum": 0.4922}, "x2": {"datum": 0.1285}, "y2": {"datum": 0.459}}},
            {"data": {"name": "notes"},
             "mark": {"type": "rule", "color": "#555555", "strokeWidth": 1.2},
             "encoding": {"x": {"datum": 0.286}, "y": {"datum": 0.4669}, "x2": {"datum": 0.076}, "y2": {"datum": 0.4491}}},
            {"data": {"name": "notes"},
             "mark": {"type": "point", "shape": "triangle-up", "filled": true, "size": 22, "color": "#555555", "opacity": 1, "angle": -129.7, "xOffset": 2.3, "yOffset": -1.9},
             "encoding": {"x": {"datum": 0.1285}, "y": {"datum": 0.459}}},
            {"data": {"name": "notes"},
             "mark": {"type": "point", "shape": "triangle-up", "filled": true, "size": 22, "color": "#555555", "opacity": 1, "angle": -111.7, "xOffset": 2.8, "yOffset": -1.1},
             "encoding": {"x": {"datum": 0.076}, "y": {"datum": 0.4491}}},
            {"data": {"name": "rho"}, "transform": [{"filter": "datum.panel == 'F'"}],
             "mark": {"type": "rect", "fill": "white", "fillOpacity": 0.85, "stroke": "#cccccc", "strokeWidth": 1, "cornerRadius": 3},
             "encoding": {"x": {"datum": 0.812}, "x2": {"datum": 1.017}, "y": {"datum": 0.5928}, "y2": {"datum": 0.5823}}},
            {"data": {"name": "rho"}, "transform": [{"filter": "datum.panel == 'F'"}],
             "mark": {"type": "text", "fontSize": 10.5, "color": "#555555"},
             "encoding": {"x": {"datum": 0.915}, "y": {"datum": 0.5876}, "text": {"field": "label"}}}
          ]
        }
      ]
    }
  ]
}
